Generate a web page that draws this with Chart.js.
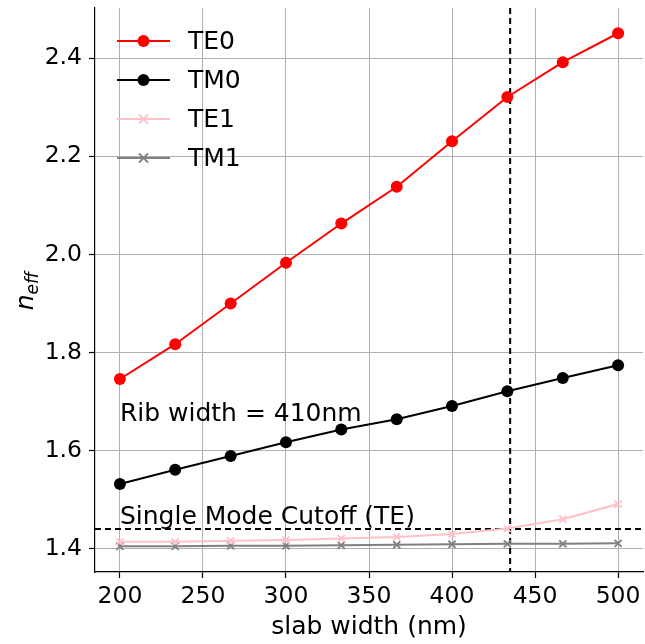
<!DOCTYPE html>
<html>
<head>
<meta charset="utf-8">
<script src="https://cdn.jsdelivr.net/npm/chart.js@4/dist/chart.umd.min.js"></script>
<style>
html, body { margin: 0; padding: 0; background: #fff; }
canvas { display: block; }
</style>
</head>
<body>
<canvas id="chart" width="645" height="644"></canvas>
<script>
var slabWidths = [200, 233.3, 266.7, 300, 333.3, 366.7, 400, 433.3, 466.7, 500];
var te0 = [1.746, 1.817, 1.900, 1.983, 2.063, 2.138, 2.231, 2.321, 2.392, 2.451];
var tm0 = [1.532, 1.561, 1.589, 1.617, 1.643, 1.664, 1.691, 1.721, 1.748, 1.774];
var te1 = [1.414, 1.414, 1.416, 1.418, 1.421, 1.424, 1.430, 1.441, 1.460, 1.491];
var tm1 = [1.405, 1.405, 1.406, 1.406, 1.407, 1.408, 1.409, 1.410, 1.410, 1.411];

var xTicks = [200, 250, 300, 350, 400, 450, 500];
var yTicks = [1.4, 1.6, 1.8, 2.0, 2.2, 2.4];

var cutoffIndex = 1.44;      // horizontal dashed line
var chosenSlab = 435;        // vertical dashed line
var ribText = 'Rib width = 410nm';
var ribTextAt = [200, 1.66];
var cutoffText = 'Single Mode Cutoff (TE)';
var cutoffTextAt = [200, 1.45];

var FONT = '"DejaVu Sans", sans-serif';

function pts(ys) {
  return slabWidths.map(function (x, i) { return { x: x, y: ys[i] }; });
}

function series(label, ys, color, style) {
  return {
    label: label,
    data: pts(ys),
    borderColor: color,
    backgroundColor: color,
    borderWidth: 2,
    pointStyle: style,
    pointRadius: style === 'circle' ? 6 : 5,
    pointBorderWidth: style === 'circle' ? 0 : 1.8,
    pointBackgroundColor: color,
    pointBorderColor: color,
    tension: 0
  };
}

var datasets = [
  series('TE0', te0, '#ff0000', 'circle'),
  series('TM0', tm0, '#000000', 'circle'),
  series('TE1', te1, '#ffc0cb', 'crossRot'),
  series('TM1', tm1, '#808080', 'crossRot')
];

// dashed guide lines, drawn under the series
var guides = {
  id: 'guides',
  beforeDatasetsDraw: function (chart) {
    var ctx = chart.ctx, a = chart.chartArea;
    var xs = chart.scales.x, ys = chart.scales.y;
    ctx.save();
    ctx.strokeStyle = '#000';
    ctx.lineWidth = 2;
    ctx.setLineDash([6, 4]);
    var py = ys.getPixelForValue(cutoffIndex);
    ctx.beginPath(); ctx.moveTo(a.left, py); ctx.lineTo(a.right, py); ctx.stroke();
    var px = xs.getPixelForValue(chosenSlab);
    ctx.beginPath(); ctx.moveTo(px, a.top); ctx.lineTo(px, a.bottom); ctx.stroke();
    ctx.restore();
  }
};

// texts, legend and y title
var extras = {
  id: 'extras',
  afterDraw: function (chart) {
    var ctx = chart.ctx;
    var xs = chart.scales.x, ys = chart.scales.y;
    ctx.save();
    ctx.fillStyle = '#000';
    ctx.font = '25px ' + FONT;
    ctx.textAlign = 'left';
    ctx.textBaseline = 'alphabetic';
    ctx.fillText(ribText, xs.getPixelForValue(ribTextAt[0]), ys.getPixelForValue(ribTextAt[1]));
    ctx.fillText(cutoffText, xs.getPixelForValue(cutoffTextAt[0]), ys.getPixelForValue(cutoffTextAt[1]));

    // legend (no frame), upper left
    var lx = 117, ly = 41, gap = 39;
    chart.data.datasets.forEach(function (ds, i) {
      var y = ly + i * gap;
      ctx.strokeStyle = ds.borderColor;
      ctx.lineWidth = 2;
      ctx.setLineDash([]);
      ctx.beginPath(); ctx.moveTo(lx, y); ctx.lineTo(lx + 53, y); ctx.stroke();
      var cx = lx + 26.5;
      if (ds.pointStyle === 'circle') {
        ctx.fillStyle = ds.borderColor;
        ctx.beginPath(); ctx.arc(cx, y, 6, 0, Math.PI * 2); ctx.fill();
      } else {
        ctx.lineWidth = 1.8;
        ctx.beginPath();
        ctx.moveTo(cx - 4.5, y - 4.5); ctx.lineTo(cx + 4.5, y + 4.5);
        ctx.moveTo(cx + 4.5, y - 4.5); ctx.lineTo(cx - 4.5, y + 4.5);
        ctx.stroke();
      }
      ctx.fillStyle = '#000';
      ctx.font = '25px ' + FONT;
      ctx.textBaseline = 'middle';
      ctx.fillText(ds.label, lx + 71, y + 1);
    });

    // y title: italic n with subscript eff
    ctx.translate(25, 291);
    ctx.rotate(-Math.PI / 2);
    ctx.textBaseline = 'alphabetic';
    ctx.textAlign = 'left';
    ctx.font = 'italic 25px ' + FONT;
    var nW = ctx.measureText('n').width;
    ctx.font = 'italic 17px ' + FONT;
    var sW = ctx.measureText('eff').width;
    var start = -(nW + sW) / 2;
    ctx.font = 'italic 25px ' + FONT;
    ctx.fillText('n', start, 8);
    ctx.font = 'italic 17px ' + FONT;
    ctx.fillText('eff', start + nW, 13);
    ctx.restore();
  }
};

new Chart(document.getElementById('chart'), {
  type: 'line',
  data: { datasets: datasets },
  options: {
    responsive: false,
    animation: false,
    devicePixelRatio: 1,
    layout: { autoPadding: false, padding: { top: 8, right: 2, left: 0, bottom: 0 } },
    plugins: { legend: { display: false }, tooltip: { enabled: false } },
    scales: {
      x: {
        type: 'linear',
        min: 185,
        max: 515,
        afterBuildTicks: function (s) { s.ticks = xTicks.map(function (v) { return { value: v }; }); },
        afterFit: function (s) { s.height = 72; s.paddingLeft = 0; s.paddingRight = 0; },
        grid: { color: '#b0b0b0', lineWidth: 1, tickLength: 6, tickColor: '#000', tickWidth: 1.2 },
        border: { display: true, color: '#000', width: 1.2 },
        ticks: { color: '#000', font: { family: FONT, size: 23.5 }, padding: 5, maxRotation: 0, autoSkip: false },
        title: { display: true, text: 'slab width (nm)', color: '#000', font: { family: FONT, size: 25 }, padding: { top: 0, bottom: 2 } }
      },
      y: {
        type: 'linear',
        min: 1.3525,
        max: 2.5025,
        afterBuildTicks: function (s) { s.ticks = yTicks.map(function (v) { return { value: v }; }); },
        afterFit: function (s) { s.width = 95; s.paddingTop = 0; s.paddingBottom = 0; },
        grid: { color: '#b0b0b0', lineWidth: 1, tickLength: 6, tickColor: '#000', tickWidth: 1.2 },
        border: { display: true, color: '#000', width: 1.2 },
        ticks: { color: '#000', font: { family: FONT, size: 23.5 }, padding: 7, autoSkip: false,
          callback: function (v) { return Number(v).toFixed(1); } }
      }
    }
  },
  plugins: [guides, extras]
});
</script>
</body>
</html>
